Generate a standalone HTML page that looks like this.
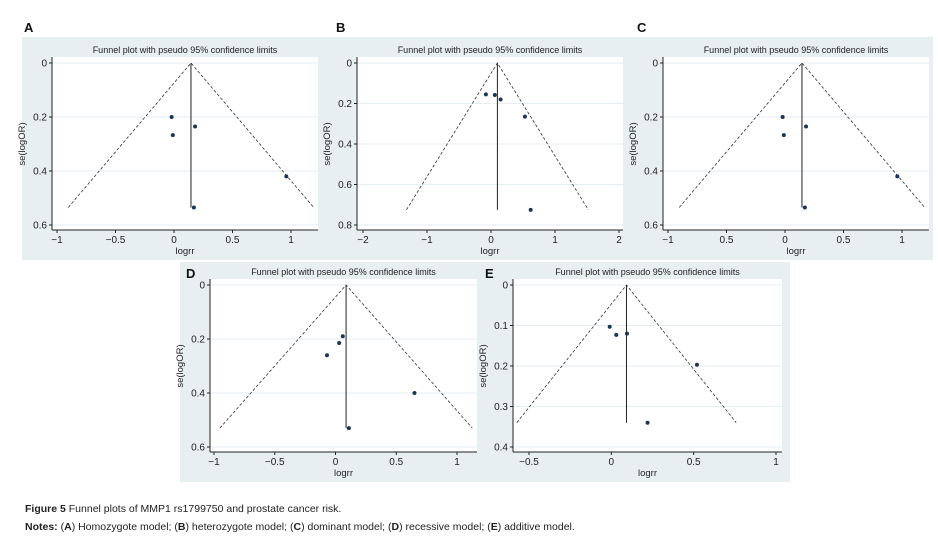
<!DOCTYPE html>
<html><head><meta charset="utf-8"><style>
body{margin:0;background:#fff;width:938px;height:538px;overflow:hidden;font-family:"Liberation Sans",sans-serif}
svg text{font-family:"Liberation Sans",sans-serif}
</style></head><body>
<svg id="fig" width="938" height="538" viewBox="0 0 938 538" xmlns="http://www.w3.org/2000/svg">
<text x="25" y="512" font-size="10.5" fill="#222"><tspan font-weight="bold">Figure 5</tspan> Funnel plots of MMP1 rs1799750 and prostate cancer risk.</text>
<text x="25" y="530" font-size="10.5" fill="#222"><tspan font-weight="bold">Notes:</tspan> (<tspan font-weight="bold">A</tspan>) Homozygote model; (<tspan font-weight="bold">B</tspan>) heterozygote model; (<tspan font-weight="bold">C</tspan>) dominant model; (<tspan font-weight="bold">D</tspan>) recessive model; (<tspan font-weight="bold">E</tspan>) additive model.</text>
</svg>
<script>
// Panel A data
const aLogrr=[-0.02,-0.01,0.18,0.96,0.17];
const aSe=[0.2,0.267,0.235,0.42,0.535];
const aPooled=0.145, aSeMax=0.535;
const aXTicks=[-1,-0.5,0,0.5,1];
const aXLabels=["\u22121","\u22120.5","0","0.5","1"];
const aYTicks=[0,0.2,0.4,0.6];
// Panel B data
const bLogrr=[-0.08,0.06,0.15,0.53,0.62];
const bSe=[0.155,0.158,0.18,0.265,0.725];
const bPooled=0.1, bSeMax=0.725;
const bXTicks=[-2,-1,0,1,2];
const bXLabels=["\u22122","\u22121","0","1","2"];
const bYTicks=[0,0.2,0.4,0.6,0.8];
// Panel C data
const cLogrr=[-0.02,-0.01,0.18,0.96,0.17];
const cSe=[0.2,0.267,0.235,0.42,0.535];
const cPooled=0.145, cSeMax=0.535;
const cXTicks=[-1,-0.5,0,0.5,1];
const cXLabels=["\u22121","0.5","0","0.5","1"];
const cYTicks=[0,0.2,0.4,0.6];
// Panel D data
const dLogrr=[0.06,0.03,-0.07,0.65,0.11];
const dSe=[0.19,0.215,0.26,0.40,0.53];
const dPooled=0.087, dSeMax=0.53;
const dXTicks=[-1,-0.5,0,0.5,1];
const dXLabels=["\u22121","\u22120.5","0","0.5","1"];
const dYTicks=[0,0.2,0.4,0.6];
// Panel E data
const eLogrr=[-0.01,0.03,0.095,0.52,0.22];
const eSe=[0.103,0.123,0.12,0.197,0.34];
const ePooled=0.092, eSeMax=0.34;
const eXTicks=[-0.5,0,0.5,1];
const eXLabels=["\u22120.5","0","0.5","1"];
const eYTicks=[0,0.1,0.2,0.3,0.4];

const NS="http://www.w3.org/2000/svg";
const svg=document.getElementById('fig');
function mk(tag,attrs,parent){const e=document.createElementNS(NS,tag);for(const k in attrs)e.setAttribute(k,attrs[k]);(parent||svg).appendChild(e);return e;}

function panel(id,letter,L,bg,ax,x0,x0v,x1,x1v,y0,y0v,y1,y1v,plotRight,logrr,se,pooled,seMax,xt,xl,yt){
  const g=mk('g',{});
  
  
  const sx=v=>x0+(v-x0v)*(x1-x0)/(x1v-x0v);
  const sy=v=>y0+(v-y0v)*(y1-y0)/(y1v-y0v);
  const r=mk('rect',{x:bg[0],y:bg[1],width:bg[2]-bg[0],height:bg[3]-bg[1],fill:'#e8eff1'},g);
  
  
  const xAxisY=sy(yt[yt.length-1])+5;
  const p=mk('rect',{x:ax,y:sy(yt[0])-6,width:plotRight-ax,height:xAxisY-(sy(yt[0])-6),fill:'#fff'},g);
  
  
  yt.forEach(v=>{const l=mk('line',{x1:ax,x2:plotRight,y1:sy(v),y2:sy(v),stroke:'#e6eef1','stroke-width':1},g);
    });
  const ya=mk('line',{x1:ax,x2:ax,y1:sy(yt[0])-6,y2:xAxisY,stroke:'#222','stroke-width':1},g);
  
  const xa=mk('line',{x1:ax,x2:plotRight,y1:xAxisY,y2:xAxisY,stroke:'#222','stroke-width':1},g);
  
  yt.forEach(v=>{mk('line',{x1:ax-3,x2:ax,y1:sy(v),y2:sy(v),stroke:'#222'},g);
    const t=mk('text',{x:ax-5,y:sy(v)+3.5,'font-size':10,'text-anchor':'end',fill:'#222'},g);t.textContent=String(v);
    });
  xt.forEach((v,i)=>{mk('line',{x1:sx(v),x2:sx(v),y1:xAxisY,y2:xAxisY+3,stroke:'#222'},g);
    const t=mk('text',{x:sx(v),y:xAxisY+13,'font-size':10,'text-anchor':'middle',fill:'#222'},g);t.textContent=xl[i];
    });
  const cx=(ax+plotRight)/2;
  const tt=mk('text',{x:cx,y:sy(yt[0])-10,'font-size':9,'text-anchor':'middle',fill:'#222'},g);tt.textContent='Funnel plot with pseudo 95% confidence limits';
  
  const xtit=mk('text',{x:cx,y:xAxisY+24,'font-size':9.5,'text-anchor':'middle',fill:'#222'},g);xtit.textContent='logrr';
  
  const ym=(sy(yt[0])+sy(yt[yt.length-1]))/2;
  const yx=ax-27;
  const ytit=mk('text',{x:yx,y:ym,'font-size':9.5,'text-anchor':'middle',fill:'#222',transform:`rotate(-90 ${yx} ${ym})`},g);ytit.textContent='se(logOR)';
  
  const lt=mk('text',{x:L[0],y:L[1],'font-size':13,'font-weight':'bold',fill:'#111'},g);lt.textContent=letter;
  
  const fl=mk('polyline',{points:`${sx(pooled-1.96*seMax)},${sy(seMax)} ${sx(pooled)},${sy(0)} ${sx(pooled+1.96*seMax)},${sy(seMax)}`,fill:'none',stroke:'#333','stroke-width':0.8,'stroke-dasharray':'3,2'},g);
  
  const pl=mk('line',{x1:sx(pooled),x2:sx(pooled),y1:sy(0),y2:sy(seMax),stroke:'#222','stroke-width':1},g);
  
  logrr.forEach((v,i)=>{const c=mk('circle',{cx:sx(v),cy:sy(se[i]),r:2,fill:'#1c3557'},g);
    });
}
panel('a','A',[24,32],[22,37,320,260],52,57,-1,291,1,63,0,225,0.6,318,aLogrr,aSe,aPooled,aSeMax,aXTicks,aXLabels,aYTicks);
panel('b','B',[336,32],[320,37,625,260],357,363,-2,619,2,63,0,225,0.8,623,bLogrr,bSe,bPooled,bSeMax,bXTicks,bXLabels,bYTicks);
panel('c','C',[637,32],[625,37,933,260],663,668,-1,902,1,63,0,225,0.6,929,cLogrr,cSe,cPooled,cSeMax,cXTicks,cXLabels,cYTicks);
panel('d','D',[186,278],[180,262,478,482],210,214,-1,457,1,285,0,447,0.6,477,dLogrr,dSe,dPooled,dSeMax,dXTicks,dXLabels,dYTicks);
panel('e','E',[485,278],[478,262,790,482],513,529,-0.5,776,1,285,0,447,0.4,782,eLogrr,eSe,ePooled,eSeMax,eXTicks,eXLabels,eYTicks);
</script>
</body></html>
